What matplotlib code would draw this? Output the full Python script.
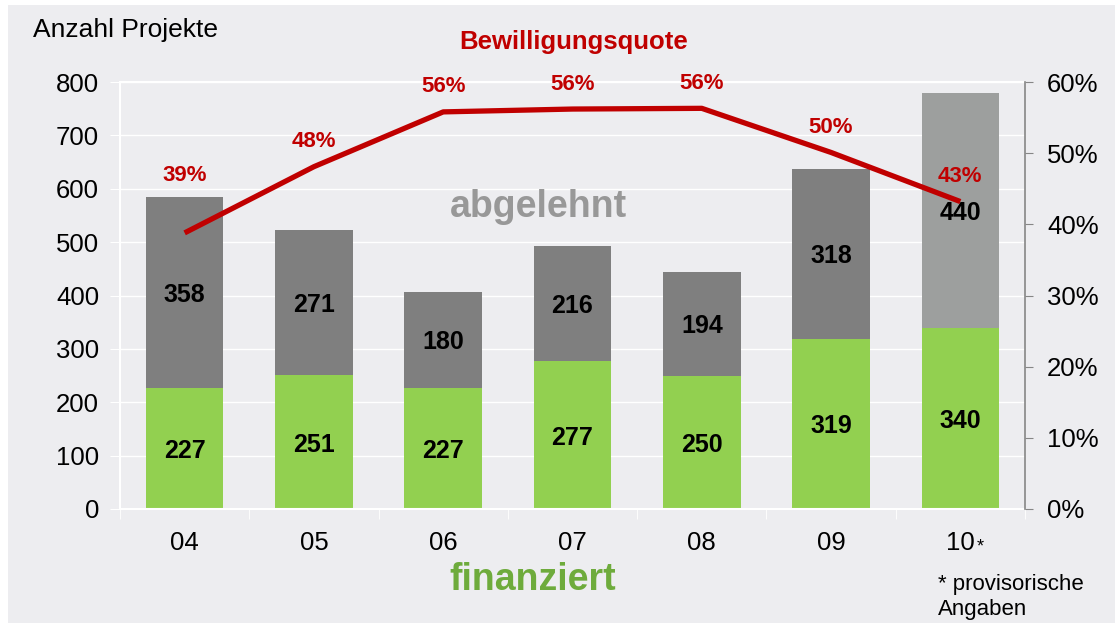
"""Bewilligungsquote: finanzierte vs. abgelehnte Projekte 2004-2010."""

import matplotlib

matplotlib.use("Agg")
import matplotlib.pyplot as plt
from matplotlib.patches import Rectangle

plt.rcParams["font.family"] = ["Liberation Sans", "DejaVu Sans"]

years = ["04", "05", "06", "07", "08", "09", "10"]
finanziert = [227, 251, 227, 277, 250, 319, 340]
abgelehnt = [358, 271, 180, 216, 194, 318, 440]
quote = [38.8, 48.1, 55.8, 56.2, 56.3, 50.1, 43.2]
quote_labels = ["39%", "48%", "56%", "56%", "56%", "50%", "43%"]

BG = "#EDEDF0"
GREEN = "#92D050"
GREY = "#7F7F7F"
GREY_LIGHT = "#9D9F9E"
RED = "#C00000"

fig = plt.figure(figsize=(11.15, 6.23), dpi=100, facecolor="white")
fig.patches.append(Rectangle((8 / 1115, 0), 1, 1 - 5 / 623, transform=fig.transFigure,
                             facecolor=BG, edgecolor="none", zorder=-10))

ax = fig.add_axes([120 / 1115, 114 / 623, 905 / 1115, 427 / 623])
ax.set_facecolor(BG)
x = list(range(len(years)))
top_colors = [GREY] * (len(years) - 1) + [GREY_LIGHT]

ax.bar(x, finanziert, width=0.6, color=GREEN, zorder=2)
ax.bar(x, abgelehnt, width=0.6, bottom=finanziert, color=top_colors, zorder=2)

for xi, f, a in zip(x, finanziert, abgelehnt):
    ax.text(xi, f / 2, str(f), ha="center", va="center_baseline", fontsize=18,
            fontweight="bold", zorder=3)
    ax.text(xi, f + a / 2, str(a), ha="center", va="center_baseline", fontsize=18,
            fontweight="bold", zorder=3)

ax.set_xlim(-0.5, len(years) - 0.5)
ax.set_ylim(0, 800)
ax.set_yticks(range(0, 801, 100))
ax.set_xticks(x)
ax.set_xticklabels(years)
ax.set_xticks([i + 0.5 for i in range(-1, len(years))], minor=True)
ax.tick_params(axis="x", which="major", length=0, pad=16, labelsize=18.5)
ax.tick_params(axis="x", which="minor", length=7, color="white")
ax.tick_params(axis="y", length=7, color="white", pad=8, labelsize=18.5)
ax.grid(axis="y", color="white", lw=1, zorder=0)
ax.set_axisbelow(True)
for side in ["left", "bottom", "top"]:
    ax.spines[side].set_color("white")
    ax.spines[side].set_linewidth(1.5)
ax.spines["right"].set_visible(False)

ax2 = ax.twinx()
ax2.plot(x, quote, color=RED, lw=3.8, solid_capstyle="butt", zorder=4)
ax2.set_ylim(0, 60)
ax2.set_yticks(range(0, 61, 10))
ax2.set_yticklabels([f"{v}%" for v in range(0, 61, 10)])
ax2.tick_params(axis="y", length=6, color="#868686", pad=10, labelsize=18.5)
for side in ["left", "bottom", "top"]:
    ax2.spines[side].set_visible(False)
ax2.spines["right"].set_color("#868686")
ax2.spines["right"].set_linewidth(1.2)

for i, (xi, q, lab) in enumerate(zip(x, quote, quote_labels)):
    off = 41 if i == 0 else 18
    ax2.annotate(lab, (xi, q), xytext=(0, off), textcoords="offset points",
                 ha="center", va="center", color=RED, fontsize=16,
                 fontweight="bold", zorder=5)

fig.text(33 / 1115, 1 - 30 / 623, "Anzahl Projekte", fontsize=19, va="center")
fig.text(574 / 1115, 1 - 42 / 623, "Bewilligungsquote", fontsize=18.5,
         fontweight="bold", color=RED, ha="center", va="center")
fig.text(538 / 1115, 1 - 207 / 623, "abgelehnt", fontsize=27, fontweight="bold",
         color="#989898", ha="center", va="center")
fig.text(533 / 1115, 1 - 580 / 623, "finanziert", fontsize=27, fontweight="bold",
         color="#6EAB3C", ha="center", va="center")
fig.text(977 / 1115, 1 - 547 / 623, "*", fontsize=13, va="center")
fig.text(938 / 1115, 1 - 597 / 623, "* provisorische\nAngaben", fontsize=16,
         va="center", linespacing=1.2)

fig.savefig("out.png", dpi=100)
